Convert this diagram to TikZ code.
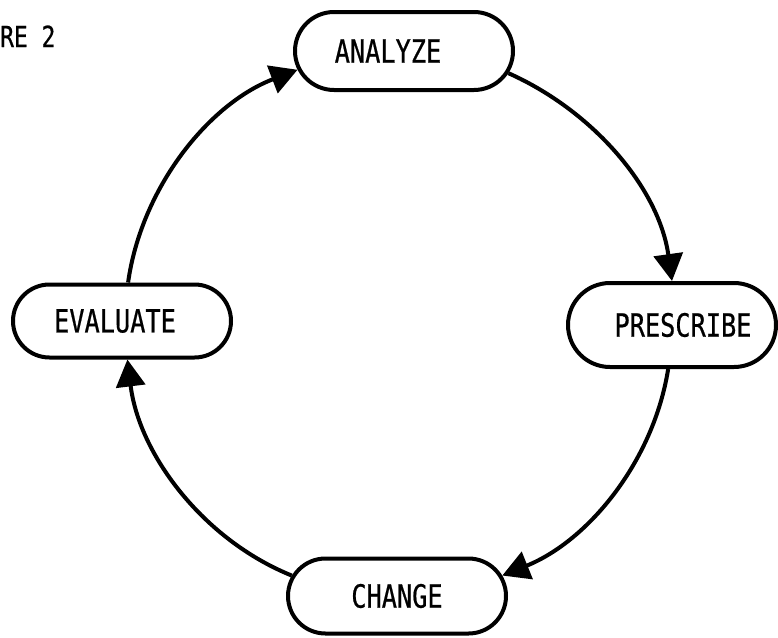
\documentclass[tikz,border=0pt]{standalone}
\usepackage{fontspec}
\newfontfamily\typefont[FakeStretch=0.79,FakeBold=0.6]{DejaVu Sans Mono}
\usetikzlibrary{shapes.misc,arrows.meta}
\begin{document}
\begin{tikzpicture}[x=1pt,y=-1pt,
  stage/.style={rounded rectangle, draw, line width=4pt,
    minimum height=78pt, minimum width=218pt, inner sep=0pt,
    font=\typefont\fontsize{32pt}{36pt}\selectfont},
  % moves the label sideways inside its box by half the given length
  nudge/.style={execute at begin node={\hspace*{#1}}},
  flow/.style={line width=4pt, looseness=0.9,
    -{Triangle[length=27pt,width=29pt]}}]
\useasboundingbox (0,0) rectangle (778,637);

% caption fragment in the top left corner
\node[anchor=base west, inner sep=0pt,
  font=\typefont\fontsize{29pt}{32pt}\selectfont] (caption) at (0,47) {RE 2};

% the four stages of the cycle
\node[stage, nudge=-32pt] (analyze) at (404,51) {ANALYZE};
\node[stage, nudge=22pt, minimum width=208pt, minimum height=84pt] (prescribe) at (672,325) {PRESCRIBE};
\node[stage, minimum height=75pt] (change) at (397,596) {CHANGE};
\node[stage, nudge=-14pt, minimum height=73pt] (evaluate) at (122,321) {EVALUATE};

% clockwise arcs joining the stages
\draw[flow] (analyze.-12)  to[out=-24, in=98]  (prescribe.north);
\draw[flow] (prescribe.-95) to[out=-99, in=22]  (change.11);
\draw[flow] (change.169)   to[out=158, in=-83] (evaluate.-82);
\draw[flow] (evaluate.81)  to[out=82,  in=201] (analyze.190);
\end{tikzpicture}
\end{document}
